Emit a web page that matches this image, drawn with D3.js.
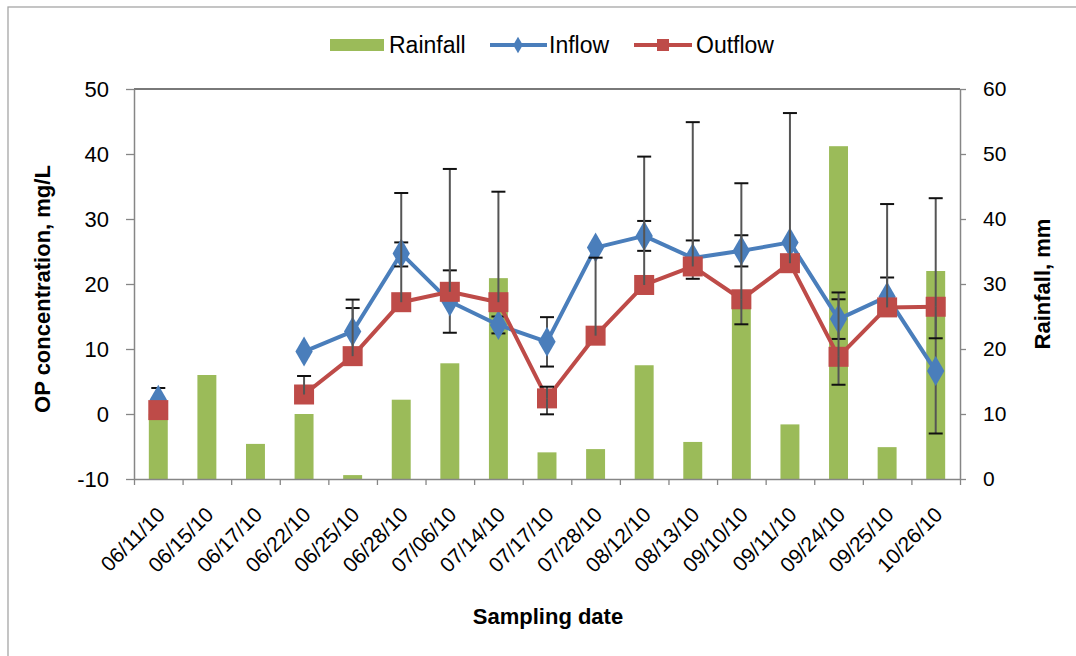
<!DOCTYPE html>
<html><head><meta charset="utf-8">
<script src="https://cdn.jsdelivr.net/npm/d3@7"></script>
<style>
body{margin:0;background:#fff;}
text{font-family:"Liberation Sans",Arial,sans-serif;fill:#000;}
</style></head>
<body>
<script>
const dates = ["06/11/10","06/15/10","06/17/10","06/22/10","06/25/10","06/28/10","07/06/10","07/14/10","07/17/10","07/28/10","08/12/10","08/13/10","09/10/10","09/11/10","09/24/10","09/25/10","10/26/10"];
const rainfall = [10, 16, 5.4, 10, 0.6, 12.2, 17.8, 30.9, 4.1, 4.6, 17.5, 5.7, 28, 8.4, 51.2, 4.9, 32];
const inflow  = [2.2, null, null, 9.6, 12.7, 24.7, 17.3, 13.7, 11.1, 25.6, 27.4, 24.0, 25.1, 26.4, 14.6, 18.05, 6.6];
const outflow = [0.6, null, null, 3.0, 8.9, 17.2, 18.8, 17.2, 2.4, 12.05, 19.85, 22.7, 17.65, 23.2, 8.8, 16.4, 16.5];
const inflowLo  = [0.4, null, null, null, 9.1, 22.7, 12.5, 12.4, 7.3, null, 25.1, 20.8, 22.7, null, 11.55, 15.1, -3.0];
const inflowHi  = [4.0, null, null, null, 16.3, 26.4, 22.1, 15.0, 14.9, null, 29.7, 26.7, 27.5, null, 17.65, 21.0, 16.2];
const outflowLo = [null, null, null, 3.0, 8.9, 17.2, 18.8, 17.2, -0.05, 12.05, 19.85, 22.7, 13.8, 23.2, 4.5, 16.4, 11.65];
const outflowHi = [null, null, null, 5.85, 17.6, 34.0, 37.7, 34.2, 4.2, 24.05, 39.6, 44.9, 35.5, 46.3, 18.7, 32.3, 33.2];
const leftTicks = [-10, 0, 10, 20, 30, 40, 50];
const rightTicks = [0, 10, 20, 30, 40, 50, 60];

const W = 1076, H = 656;
const x0 = 134, x1 = 960, y0 = 89, y1 = 479;
const BLUE = "#4A7EBB", RED = "#BE4B48", GREEN = "#9BBB59";

const svg = d3.select("body").append("svg").attr("width", W).attr("height", H);

// outer chart border
svg.append("rect").attr("x", 8).attr("y", 7).attr("width", W + 20).attr("height", H + 20)
  .attr("fill", "none").attr("stroke", "#A6A6A6").attr("stroke-width", 1.3);

const x = d3.scaleBand().domain(dates).range([x0, x1]);
const xb = d3.scaleBand().domain(dates).range([x0, x1]).paddingInner(0.61).paddingOuter(0.305);
const yL = d3.scaleLinear().domain([-10, 50]).range([y1, y0]);
const yR = d3.scaleLinear().domain([0, 60]).range([y1, y0]);
const cx = i => x(dates[i]) + x.bandwidth() / 2;

// bars
svg.append("g").selectAll("rect").data(rainfall).join("rect")
  .attr("x", (d, i) => xb(dates[i])).attr("width", xb.bandwidth())
  .attr("y", d => yR(d)).attr("height", d => yR(0) - yR(d))
  .attr("fill", GREEN);

// top frame line
svg.append("line").attr("x1", x0).attr("x2", x1).attr("y1", y0).attr("y2", y0)
  .attr("stroke", "#4D4D4D").attr("stroke-width", 1.6);

// axes
function styleAxis(g) {
  g.selectAll(".domain").attr("stroke", "#868686").attr("stroke-width", 1.5);
  g.selectAll(".tick line").attr("stroke", "#868686").attr("stroke-width", 1.3);
  g.selectAll(".tick text").attr("fill", "#000");
}
const xi = d3.scaleLinear().domain([0, dates.length]).range([x0, x1]);
svg.append("g").attr("transform", `translate(0,${y1})`)
  .call(d3.axisBottom(xi).tickValues(d3.range(dates.length + 1)).tickFormat("").tickSize(6).tickSizeOuter(0))
  .call(styleAxis);
svg.append("g").attr("transform", `translate(${x0},0)`)
  .call(d3.axisLeft(yL).tickValues(leftTicks).tickFormat(d => String(d)).tickSize(8).tickSizeOuter(0).tickPadding(17))
  .call(styleAxis)
  .selectAll(".tick text").style("font-size", "22px").attr("font-family", null);
svg.append("g").attr("transform", `translate(${x1},0)`)
  .call(d3.axisRight(yR).tickValues(rightTicks).tickFormat(d => String(d)).tickSize(6).tickSizeOuter(0).tickPadding(17))
  .call(styleAxis)
  .selectAll(".tick text").style("font-size", "21px").attr("font-family", null);

// date labels
svg.append("g").selectAll("text").data(dates).join("text")
  .attr("transform", (d, i) => `translate(${cx(i) + 8},${y1 + 37}) rotate(-45)`)
  .attr("text-anchor", "end").style("font-size", "21px").text(d => d);

// error bars
function errBars(lo, hi, vals) {
  const g = svg.append("g");
  vals.forEach((v, i) => {
    if (v == null) return;
    const X = cx(i);
    [hi[i], lo[i]].forEach(e => {
      if (e == null || e === v) return;
      g.append("line").attr("x1", X).attr("x2", X).attr("y1", yL(v)).attr("y2", yL(e))
        .attr("stroke", "#555").attr("stroke-width", 2);
      g.append("line").attr("x1", X - 7).attr("x2", X + 7).attr("y1", yL(e)).attr("y2", yL(e))
        .attr("stroke", "#111").attr("stroke-width", 2);
    });
  });
}

const line = d3.line().defined(d => d != null).x((d, i) => cx(i)).y(d => yL(d));

// inflow
svg.append("path").datum(inflow).attr("d", line).attr("fill", "none")
  .attr("stroke", BLUE).attr("stroke-width", 4).attr("stroke-linejoin", "round");
errBars(inflowLo, inflowHi, inflow);
svg.append("g").selectAll("path").data(inflow.map((v, i) => [v, i]).filter(d => d[0] != null)).join("path")
  .attr("d", d3.symbol(d3.symbolDiamond, 260)())
  .attr("transform", d => `translate(${cx(d[1])},${yL(d[0])})`)
  .attr("fill", BLUE);

// outflow
svg.append("path").datum(outflow).attr("d", line).attr("fill", "none")
  .attr("stroke", RED).attr("stroke-width", 4).attr("stroke-linejoin", "round");
svg.append("g").selectAll("rect").data(outflow.map((v, i) => [v, i]).filter(d => d[0] != null)).join("rect")
  .attr("x", d => cx(d[1]) - 10).attr("y", d => yL(d[0]) - 10)
  .attr("width", 20).attr("height", 20).attr("fill", RED);
errBars(outflowLo, outflowHi, outflow);

// legend
const lg = svg.append("g");
const LY = 45;
lg.append("rect").attr("x", 330).attr("y", LY - 6).attr("width", 54).attr("height", 12).attr("fill", GREEN);
lg.append("text").attr("x", 389).attr("y", LY + 8).style("font-size", "23px").text("Rainfall");
lg.append("line").attr("x1", 490).attr("x2", 547).attr("y1", LY).attr("y2", LY).attr("stroke", BLUE).attr("stroke-width", 4);
lg.append("path").attr("d", d3.symbol(d3.symbolDiamond, 80)()).attr("transform", `translate(518,${LY})`).attr("fill", BLUE);
lg.append("text").attr("x", 549).attr("y", LY + 8).style("font-size", "23px").text("Inflow");
lg.append("line").attr("x1", 634).attr("x2", 692).attr("y1", LY).attr("y2", LY).attr("stroke", RED).attr("stroke-width", 4);
lg.append("rect").attr("x", 657).attr("y", LY - 6).attr("width", 12).attr("height", 12).attr("fill", RED);
lg.append("text").attr("x", 696).attr("y", LY + 8).style("font-size", "23px").text("Outflow");

// axis titles
svg.append("text").attr("transform", "translate(50,289) rotate(-90)").attr("text-anchor", "middle")
  .style("font-size", "22px").style("font-weight", "bold").text("OP concentration, mg/L");
svg.append("text").attr("transform", "translate(1050,284) rotate(-90)").attr("text-anchor", "middle")
  .style("font-size", "22px").style("font-weight", "bold").text("Rainfall, mm");
svg.append("text").attr("x", 548).attr("y", 624).attr("text-anchor", "middle")
  .style("font-size", "22px").style("font-weight", "bold").text("Sampling date");
</script>
</body></html>
